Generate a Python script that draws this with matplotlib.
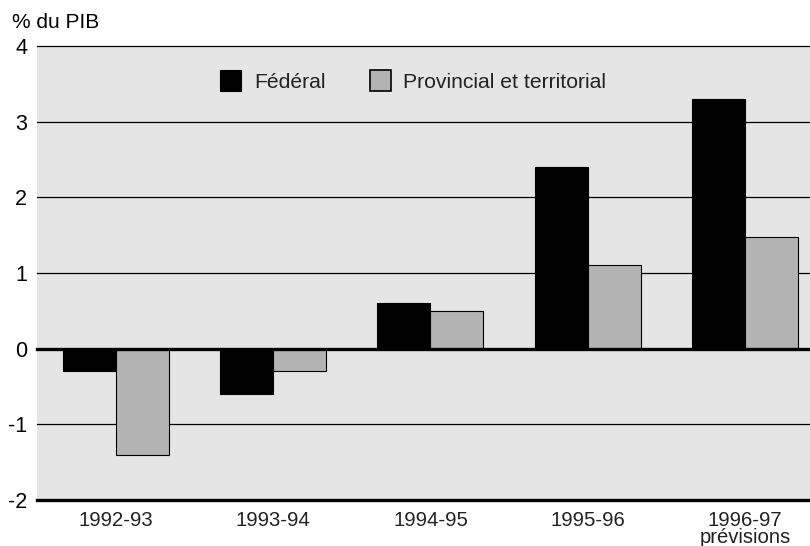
import matplotlib
matplotlib.use("Agg")
import matplotlib.pyplot as plt
import numpy as np
from matplotlib.patches import Patch

plt.rcParams['font.family'] = ['Liberation Sans', 'DejaVu Sans']

years = ["1992-93", "1993-94", "1994-95", "1995-96", "1996-97\nprévisions"]
federal = [-0.3, -0.6, 0.6, 2.4, 3.3]
provincial = [-1.4, -0.3, 0.5, 1.1, 1.47]
series_names = ["Fédéral", "Provincial et territorial"]
y_ticks = [-2, -1, 0, 1, 2, 3, 4]

W, H = 810, 546
fig = plt.figure(figsize=(W / 100, H / 100), dpi=100)
left_px, top_px, bottom_px = 37, 46, 500
ax = fig.add_axes([left_px / W, 1 - bottom_px / H, (W - left_px) / W,
                   (bottom_px - top_px) / H])
ax.set_facecolor("#e5e5e5")

x = np.arange(len(years))
bw = 0.337
ax.bar(x - bw / 2, federal, width=bw, color="black", edgecolor="black",
       linewidth=0.8, zorder=3)
ax.bar(x + bw / 2, provincial, width=bw, color="#b3b3b3", edgecolor="black",
       linewidth=0.8, zorder=3)

ax.set_ylim(-2, 4)
ax.set_xlim(-0.502, -0.502 + (W - left_px) / 157.25)

for v in y_ticks:
    if v in (0, -2):
        ax.axhline(v, color="black", linewidth=2.4, zorder=4, clip_on=False)
    else:
        ax.axhline(v, color="black", linewidth=0.9, zorder=1, clip_on=False)

for s in ax.spines.values():
    s.set_visible(False)

ax.set_yticks(y_ticks)
ax.set_yticklabels([str(v) for v in y_ticks], fontsize=15.5)
ax.set_xticks(x)
ax.set_xticklabels(years, fontsize=14.6, color="#222222", linespacing=0.85,
                   va="top")
ax.tick_params(axis="both", length=0)
ax.tick_params(axis="y", pad=7)
ax.tick_params(axis="x", pad=8)

fig.text(12 / W, 1 - 28 / H, "% du PIB", fontsize=15, va="baseline",
         ha="left")

handles = [Patch(facecolor="black", edgecolor="black", linewidth=0.8),
           Patch(facecolor="#b3b3b3", edgecolor="black", linewidth=1.2)]
leg = ax.legend(handles, series_names, ncol=2, frameon=False, fontsize=15.2,
                loc="center left",
                bbox_to_anchor=(220 / W, 1 - 81 / H),
                bbox_transform=fig.transFigure,
                handlelength=1.0, handleheight=1.15, handletextpad=0.6,
                columnspacing=2.1, borderpad=0, borderaxespad=0)
for t in leg.get_texts():
    t.set_color("#222222")

fig.savefig("out.png", dpi=100)
